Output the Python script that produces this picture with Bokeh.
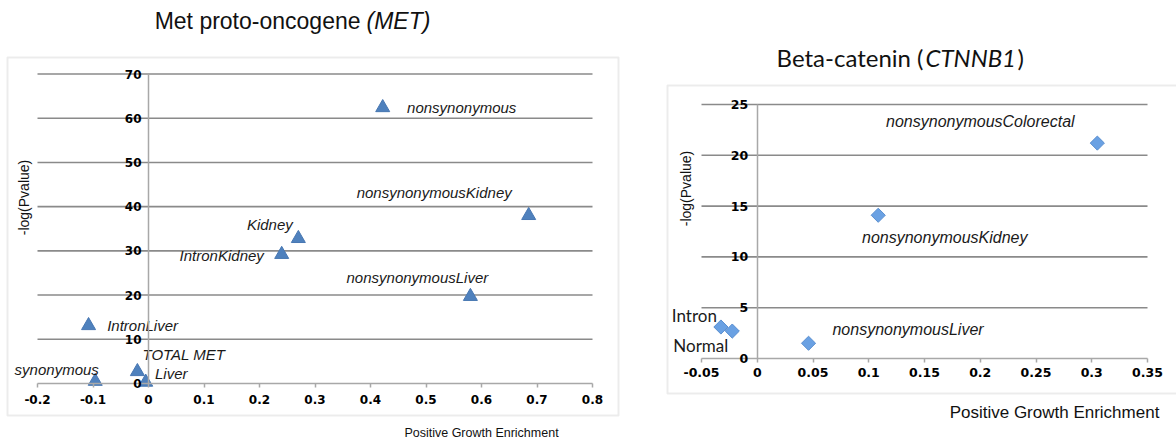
import numpy as np
from bokeh.plotting import figure
from bokeh.models import (ColumnDataSource, Range1d, LinearAxis, FixedTicker, Label,
                          Grid, CustomJSTickFormatter, BoxAnnotation)
from bokeh.layouts import row
from bokeh.embed import file_html
from bokeh.resources import INLINE
from bokeh.core.properties import value

# ---------------- data: MET ----------------
met_names = ["nonsynonymous", "nonsynonymousKidney", "Kidney", "IntronKidney",
             "nonsynonymousLiver", "IntronLiver", "synonymous", "TOTAL MET", "Liver"]
met_enrichment = [0.422, 0.685, 0.270, 0.240, 0.580, -0.108, -0.096, -0.020, -0.005]
met_logp = [62.4, 38.0, 32.8, 29.2, 19.7, 13.1, 0.5, 2.7, 0.3]
met_xticks = [-0.2, -0.1, 0, 0.1, 0.2, 0.3, 0.4, 0.5, 0.6, 0.7, 0.8]
met_yticks = [0, 10, 20, 30, 40, 50, 60, 70]

# ---------------- data: CTNNB1 ----------------
ctn_names = ["nonsynonymousColorectal", "nonsynonymousKidney", "nonsynonymousLiver"]
ctn_enrichment = [0.305, 0.1085, 0.046]
ctn_logp = [21.2, 14.1, 1.5]
ctn_plain_names = ["Intron", "Normal"]
ctn_plain_enrichment = [-0.0326, -0.0224]
ctn_plain_logp = [3.1, 2.7]
ctn_xticks = [-0.05, 0, 0.05, 0.1, 0.15, 0.2, 0.25, 0.3, 0.35]
ctn_yticks = [0, 5, 10, 15, 20, 25]

# label placement (screen px offsets from the point; styles, not data)
met_label_dx = [79, -94.5, -28.5, -60, -53, 54, -38.5, 46.5, 25.5]
met_label_dy = [0, -23, -14, 1, -19, 0, -12, -17, -9]
ctn_label_dx = [-117, 66.5, 99.5]
ctn_label_dy = [-22, 22, -14]
ctn_plain_dx = [-26.5, -31.5]
ctn_plain_dy = [-12, 14]

fmt = CustomJSTickFormatter(code="return String(Math.round(tick*100)/100)")

GRID = "#8a8a8a"
AXIS = "#a8a8a8"
BOX = "#c0c0c0"
H = 442


def make_panel(width, fig_left, box, xmap, ymap, xticks, yticks, tick_size,
               xstd, ystd):
    # box = (left, top, right, bottom) of the chart-area border in page px
    # xmap = (x_a, px_a, x_b, px_b), ymap likewise
    xa, pxa, xb, pxb = xmap
    ya, pya, yb, pyb = ymap
    kx = (pxb - pxa) / (xb - xa)
    ky = (pyb - pya) / (yb - ya)

    def px2x(px):
        return xa + (px - pxa) / kx

    def px2y(py):
        return ya + (py - pya) / ky

    p = figure(width=width, height=H,
               x_range=Range1d(px2x(fig_left), px2x(fig_left + width)),
               y_range=Range1d(px2y(H), px2y(0)),
               x_axis_location=None, y_axis_location=None,
               toolbar_location=None, output_backend="svg",
               min_border=0, min_border_left=0, min_border_right=0,
               min_border_top=0, min_border_bottom=0)
    p.center = [c for c in p.center if not isinstance(c, Grid)]
    p.outline_line_color = None
    p.background_fill_color = "white"
    p.border_fill_color = "white"

    bl, bt, br, bb = box
    p.add_layout(BoxAnnotation(left=px2x(bl), right=px2x(br), top=px2y(bt), bottom=px2y(bb),
                               fill_color=None, line_color=BOX, line_width=2,
                               level="underlay"))

    # horizontal gridlines spanning the tick range
    gy = [t for t in yticks if t != 0]
    p.segment(x0=[xticks[0]] * len(gy), x1=[xticks[-1]] * len(gy), y0=gy, y1=gy,
              line_color=GRID, line_width=1.6)

    xax = LinearAxis(fixed_location=0, bounds=(xticks[0], xticks[-1]),
                     ticker=FixedTicker(ticks=xticks), formatter=fmt)
    xax.axis_line_color = AXIS
    xax.axis_line_width = 1.5
    xax.major_tick_line_color = AXIS
    xax.major_tick_line_width = 1.5
    xax.major_tick_in = 0
    xax.major_tick_out = 4
    xax.minor_tick_line_color = None
    xax.major_label_text_font = "DejaVu Sans"
    xax.major_label_text_font_style = "bold"
    xax.major_label_text_font_size = tick_size
    xax.major_label_text_color = "black"
    xax.major_label_standoff = xstd
    p.add_layout(xax, "below")

    yax = LinearAxis(fixed_location=0, bounds=(yticks[0], yticks[-1]),
                     ticker=FixedTicker(ticks=yticks), formatter=fmt)
    yax.axis_line_color = AXIS
    yax.axis_line_width = 1.5
    yax.major_tick_line_color = None
    yax.major_tick_in = 0
    yax.major_tick_out = 0
    yax.minor_tick_line_color = None
    yax.major_label_text_font = "DejaVu Sans"
    yax.major_label_text_font_style = "bold"
    yax.major_label_text_font_size = tick_size
    yax.major_label_text_color = "black"
    yax.major_label_standoff = ystd
    p.add_layout(yax, "left")

    return p, px2x, px2y


def add_label(p, x, y, text, font, size, style="normal", align="center", angle=0.0):
    p.add_layout(Label(x=x, y=y, text=text, text_font=font, text_font_size=size,
                       text_font_style=style, text_align=align, text_baseline="middle",
                       text_color="#111111", angle=angle))


# ---------------- left: MET ----------------
pL, lx, ly = make_panel(642, 0, (7, 57, 618, 415), (-0.2, 37, 0.8, 592),
                        (0, 383, 70, 73.5), met_xticks, met_yticks, "12px", 7, 7)
srcL = ColumnDataSource(dict(x=met_enrichment, y=met_logp, name=met_names,
                             dx=met_label_dx, dy=met_label_dy))
pL.scatter("x", "y", source=srcL, marker="triangle", size=14,
           fill_color="#4f81bd", line_color="#4877b2", line_width=1)
pL.text("x", "y", text="name", source=srcL, x_offset="dx", y_offset="dy",
        text_align="center", text_baseline="middle",
        text_font=value("Liberation Sans"), text_font_style="italic",
        text_font_size="15px", text_color="#1a1a1a")

add_label(pL, lx(360), ly(20), "Met proto-oncogene", "Liberation Sans", "23px", align="right")
add_label(pL, lx(366), ly(20), "(MET)", "Liberation Sans", "23px", style="italic", align="left")
add_label(pL, lx(23), ly(197), "-log(Pvalue)", "Liberation Sans", "14px", angle=np.pi / 2)
add_label(pL, lx(481), ly(432), "Positive Growth Enrichment", "Liberation Sans", "12.5px")

# ---------------- right: CTNNB1 ----------------
pR, rx, ry = make_panel(534, 642, (667, 85, 1190, 393), (-0.05, 701, 0.35, 1147),
                        (0, 358, 25, 104), ctn_xticks, ctn_yticks, "12.5px", 5, 9)
srcR = ColumnDataSource(dict(x=ctn_enrichment, y=ctn_logp, name=ctn_names,
                             dx=ctn_label_dx, dy=ctn_label_dy))
srcR2 = ColumnDataSource(dict(x=ctn_plain_enrichment, y=ctn_plain_logp, name=ctn_plain_names,
                              dx=ctn_plain_dx, dy=ctn_plain_dy))
for s in (srcR, srcR2):
    pR.scatter("x", "y", source=s, marker="square", angle=np.pi / 4, size=10,
               fill_color="#6aa1e3", line_color="#5a8fd0", line_width=1)
pR.text("x", "y", text="name", source=srcR, x_offset="dx", y_offset="dy",
        text_align="center", text_baseline="middle",
        text_font=value("Liberation Sans"), text_font_style="italic",
        text_font_size="16px", text_color="#1a1a1a")
pR.text("x", "y", text="name", source=srcR2, x_offset="dx", y_offset="dy",
        text_align="center", text_baseline="middle",
        text_font=value("Lato"), text_font_size="17px", text_color="#1a1a1a")

add_label(pR, rx(923), ry(57), "Beta-catenin (", "Lato", "24px", align="right")
add_label(pR, rx(925), ry(57), "CTNNB1", "Lato", "24px", style="italic", align="left")
add_label(pR, rx(1017), ry(57), ")", "Lato", "24px", align="left")
add_label(pR, rx(685), ry(188), "-log(Pvalue)", "Liberation Sans", "14px", angle=np.pi / 2)
add_label(pR, rx(1054), ry(412), "Positive Growth Enrichment", "Liberation Sans", "17px")

layout = row(pL, pR, spacing=0)
open("out.html", "w").write(file_html(layout, INLINE))
